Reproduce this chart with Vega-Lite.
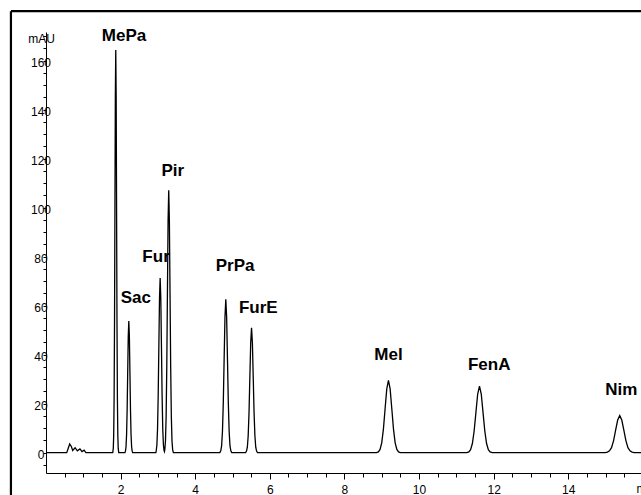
{
  "$schema": "https://vega.github.io/schema/vega-lite/v6.json",
  "width": 595,
  "height": 441,
  "autosize": "none",
  "padding": {"left": 46, "top": 32, "right": 0, "bottom": 22},
  "background": "white",
  "config": {"view": {"stroke": null}, "font": "Liberation Sans"},
  "encoding": {
    "x": {
      "field": "t", "type": "quantitative",
      "scale": {"domain": [0, 15.95], "nice": false, "zero": false},
      "axis": {
        "title": "min", "titleX": 590, "titleY": 15.5, "titleAlign": "left", "titleBaseline": "middle",
        "titleFontSize": 12, "titleFontWeight": "normal", "titleColor": "black", "titleFont": "Liberation Sans",
        "values": [0.5,1,1.5,2,2.5,3,3.5,4,4.5,5,5.5,6,6.5,7,7.5,8,8.5,9,9.5,10,10.5,11,11.5,12,12.5,13,13.5,14,14.5,15,15.5],
        "labelExpr": "datum.value % 2 === 0 ? '' + datum.value : ''",
        "labelFontSize": 12, "labelColor": "black", "labelFont": "Liberation Sans", "labelPadding": 5,
        "labelFlush": false, "labelOverlap": false,
        "tickColor": "black", "tickWidth": 1,
        "tickSize": {"condition": {"test": "datum.value % 2 === 0", "value": 6}, "value": 4},
        "domainColor": "black", "domainWidth": 1, "grid": false
      }
    },
    "y": {
      "field": "v", "type": "quantitative",
      "scale": {"domain": [-8.33, 171.7], "nice": false, "zero": false},
      "axis": {
        "title": "mAU", "titleAngle": 0, "titleX": -5, "titleY": 6, "titleAlign": "center", "titleBaseline": "middle",
        "titleFontSize": 12, "titleFontWeight": "normal", "titleColor": "black", "titleFont": "Liberation Sans",
        "values": [-5,0,5,10,15,20,25,30,35,40,45,50,55,60,65,70,75,80,85,90,95,100,105,110,115,120,125,130,135,140,145,150,155,160,165,170],
        "labelExpr": "datum.value % 20 === 0 && datum.value >= 0 && datum.value <= 160 ? '' + datum.value : ''",
        "labelAlign": "center", "labelBaseline": "middle", "labelPadding": 2.5, "labelOffset": 1.5,
        "labelFontSize": 12, "labelColor": "black", "labelFont": "Liberation Sans",
        "labelFlush": false, "labelOverlap": false,
        "tickColor": "black", "tickWidth": 1, "tickSize": 3,
        "domainColor": "black", "domainWidth": 1, "grid": false
      }
    }
  },
  "layer": [
    {
      "data": {"values": [
        {"t": -0.94, "v": 180.2, "t2": 16.5, "v2": 180.2},
        {"t": -0.94, "v": -20, "t2": -0.94, "v2": 180.2}
      ]},
      "mark": {"type": "rule", "color": "black", "strokeWidth": 2.2, "clip": false},
      "encoding": {"x2": {"field": "t2"}, "y2": {"field": "v2"}}
    },
    {
      "data": {"values": [
        {"name": "MePa", "t": 2.09, "v": 170.0},
        {"name": "Sac", "t": 2.41, "v": 63.0},
        {"name": "Fur", "t": 2.95, "v": 79.7},
        {"name": "Pir", "t": 3.40, "v": 114.9},
        {"name": "PrPa", "t": 5.07, "v": 76.1},
        {"name": "FurE", "t": 5.69, "v": 59.1},
        {"name": "Mel", "t": 9.18, "v": 39.9},
        {"name": "FenA", "t": 11.88, "v": 35.9},
        {"name": "Nim", "t": 15.42, "v": 25.4}
      ]},
      "mark": {"type": "text", "font": "Liberation Sans", "fontSize": 17, "fontWeight": "bold", "align": "center", "baseline": "middle", "color": "black"},
      "encoding": {"text": {"field": "name"}}
    },
    {
      "data": {"values": [
        {"t": 0, "v": 0}, {"t": 0.555, "v": 0}, {"t": 0.59, "v": 1.5}, {"t": 0.635, "v": 3.5}, {"t": 0.68, "v": 2.5},
        {"t": 0.715, "v": 0.9}, {"t": 0.78, "v": 2.0}, {"t": 0.84, "v": 0.7}, {"t": 0.91, "v": 1.5}, {"t": 0.965, "v": 0.4},
        {"t": 1.02, "v": 1.0}, {"t": 1.07, "v": 0},
        {"t": 1.79, "v": 0}, {"t": 1.804, "v": 1.8}, {"t": 1.815, "v": 7.2}, {"t": 1.826, "v": 22.2}, {"t": 1.837, "v": 53.3},
        {"t": 1.848, "v": 99.6}, {"t": 1.859, "v": 145}, {"t": 1.87, "v": 164.3}, {"t": 1.881, "v": 145}, {"t": 1.892, "v": 99.6},
        {"t": 1.903, "v": 53.3}, {"t": 1.914, "v": 22.2}, {"t": 1.925, "v": 7.2}, {"t": 1.936, "v": 1.8}, {"t": 1.95, "v": 0},
        {"t": 2.115, "v": 0}, {"t": 2.13, "v": 0.6}, {"t": 2.145, "v": 2.4}, {"t": 2.16, "v": 7.3}, {"t": 2.175, "v": 17.4},
        {"t": 2.19, "v": 32.6}, {"t": 2.205, "v": 47.4}, {"t": 2.22, "v": 53.7}, {"t": 2.235, "v": 47.4}, {"t": 2.25, "v": 32.6},
        {"t": 2.265, "v": 17.4}, {"t": 2.28, "v": 7.3}, {"t": 2.295, "v": 2.4}, {"t": 2.31, "v": 0.6}, {"t": 2.325, "v": 0},
        {"t": 2.945, "v": 0}, {"t": 2.955, "v": 0.8}, {"t": 2.9725, "v": 3.1}, {"t": 2.99, "v": 9.6}, {"t": 3.0075, "v": 23.2},
        {"t": 3.025, "v": 43.2}, {"t": 3.0425, "v": 62.9}, {"t": 3.06, "v": 71.3}, {"t": 3.0775, "v": 62.9}, {"t": 3.095, "v": 43.2},
        {"t": 3.1125, "v": 23.2}, {"t": 3.13, "v": 9.6}, {"t": 3.1475, "v": 3.1}, {"t": 3.165, "v": 0.8}, {"t": 3.175, "v": 0.4},
        {"t": 3.185, "v": 1.2}, {"t": 3.2025, "v": 4.7}, {"t": 3.22, "v": 14.5}, {"t": 3.2375, "v": 34.8}, {"t": 3.255, "v": 65.0},
        {"t": 3.2725, "v": 94.5}, {"t": 3.29, "v": 107.1}, {"t": 3.3075, "v": 94.5}, {"t": 3.325, "v": 65.0}, {"t": 3.3425, "v": 34.8},
        {"t": 3.36, "v": 14.5}, {"t": 3.3775, "v": 4.7}, {"t": 3.395, "v": 1.2}, {"t": 3.415, "v": 0},
        {"t": 4.66, "v": 0}, {"t": 4.685, "v": 0.7}, {"t": 4.7075, "v": 2.7}, {"t": 4.73, "v": 8.5}, {"t": 4.7525, "v": 20.3},
        {"t": 4.775, "v": 38.0}, {"t": 4.7975, "v": 55.2}, {"t": 4.82, "v": 62.6}, {"t": 4.8425, "v": 55.2}, {"t": 4.865, "v": 38.0},
        {"t": 4.8875, "v": 20.3}, {"t": 4.91, "v": 8.5}, {"t": 4.9325, "v": 2.7}, {"t": 4.955, "v": 0.7}, {"t": 4.98, "v": 0},
        {"t": 5.35, "v": 0}, {"t": 5.375, "v": 0.6}, {"t": 5.3975, "v": 2.2}, {"t": 5.42, "v": 6.9}, {"t": 5.4425, "v": 16.5},
        {"t": 5.465, "v": 30.9}, {"t": 5.4875, "v": 44.9}, {"t": 5.51, "v": 50.9}, {"t": 5.5325, "v": 44.9}, {"t": 5.555, "v": 30.9},
        {"t": 5.5775, "v": 16.5}, {"t": 5.6, "v": 6.9}, {"t": 5.6225, "v": 2.2}, {"t": 5.645, "v": 0.6}, {"t": 5.67, "v": 0},
        {"t": 8.86, "v": 0}, {"t": 8.91, "v": 0.3}, {"t": 8.955, "v": 1.3}, {"t": 9.0, "v": 4.0}, {"t": 9.045, "v": 9.6},
        {"t": 9.09, "v": 17.9}, {"t": 9.135, "v": 26.0}, {"t": 9.18, "v": 29.5}, {"t": 9.225, "v": 26.0}, {"t": 9.27, "v": 17.9},
        {"t": 9.315, "v": 9.6}, {"t": 9.36, "v": 4.0}, {"t": 9.405, "v": 1.3}, {"t": 9.45, "v": 0.3}, {"t": 9.5, "v": 0},
        {"t": 11.28, "v": 0}, {"t": 11.335, "v": 0.3}, {"t": 11.382, "v": 1.2}, {"t": 11.43, "v": 3.7}, {"t": 11.477, "v": 8.8},
        {"t": 11.525, "v": 16.4}, {"t": 11.572, "v": 23.9}, {"t": 11.62, "v": 27.1}, {"t": 11.668, "v": 23.9}, {"t": 11.715, "v": 16.4},
        {"t": 11.763, "v": 8.8}, {"t": 11.81, "v": 3.7}, {"t": 11.858, "v": 1.2}, {"t": 11.905, "v": 0.3}, {"t": 11.96, "v": 0},
        {"t": 14.99, "v": 0}, {"t": 15.05, "v": 0.2}, {"t": 15.105, "v": 0.7}, {"t": 15.16, "v": 2.0}, {"t": 15.215, "v": 4.9},
        {"t": 15.27, "v": 9.2}, {"t": 15.325, "v": 13.3}, {"t": 15.38, "v": 15.1}, {"t": 15.435, "v": 13.3}, {"t": 15.49, "v": 9.2},
        {"t": 15.545, "v": 4.9}, {"t": 15.6, "v": 2.0}, {"t": 15.655, "v": 0.7}, {"t": 15.71, "v": 0.2}, {"t": 15.77, "v": 0},
        {"t": 15.95, "v": 0}
      ]},
      "mark": {"type": "line", "color": "black", "strokeWidth": 1.3, "interpolate": "linear"}
    }
  ]
}
